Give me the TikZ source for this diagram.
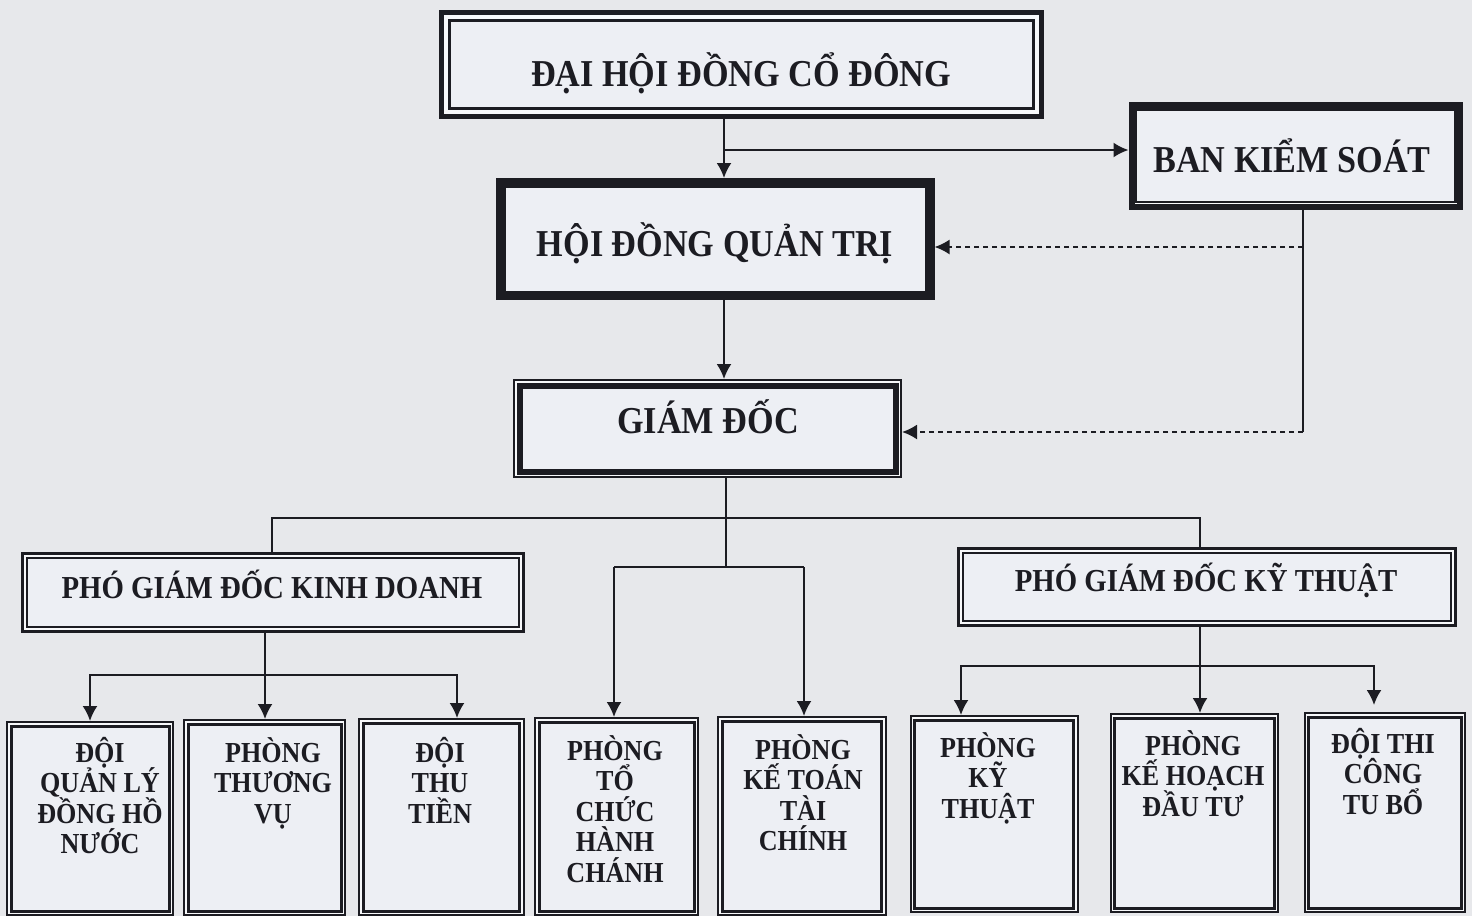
\documentclass[tikz,border=0pt]{standalone}
\usepackage{fontspec}
\setmainfont{Liberation Serif}[FakeStretch=0.9]
\usetikzlibrary{arrows.meta,fit}
\definecolor{bgc}{RGB}{231,232,235}
\definecolor{boxc}{RGB}{237,239,244}
\definecolor{gapc}{RGB}{247,248,250}
\definecolor{ink}{RGB}{28,28,34}
\newcommand\mysmallfont{\fontsize{14.5}{15.2}\selectfont\bfseries\lineskiplimit=-30pt\relax\lineskip=0pt\relax}
\newcommand\mystrut{\rule{0pt}{16pt}}
\begin{document}
\begin{tikzpicture}[x=0.5pt,y=-0.5pt,
  obox/.style={fit={#1}, inner sep=0pt, fill=gapc, draw=ink},
  ibox/.style={draw=ink, fill=boxc},
  big/.style={font=\fontsize{19}{22}\selectfont\bfseries, text=ink, inner sep=0pt, anchor=base},
  mid/.style={font=\fontsize{16}{19}\selectfont\bfseries, text=ink, inner sep=0pt, anchor=base},
  small/.style={font=\mysmallfont, text=ink, inner sep=0pt, anchor=north, align=center},
  conn/.style={draw=ink, line width=1pt},
  arr/.style={conn, -{Latex[length=7.5pt,width=7.5pt]}},
  dsh/.style={dash pattern=on 2.5pt off 2pt}
]
\useasboundingbox[fill=bgc] (0,0) rectangle (1472,916);

% ---------- boxes ----------
\node[obox={(441,12.5) (1041,116.5)}, line width=2.5pt] (dhd) {};
\draw[ibox, line width=1.5pt] ([shift={(10.5,10.5)}]dhd.north west) rectangle ([shift={(-10.5,-10.5)}]dhd.south east);

\node[obox={(499.5,181.5) (931,296.5)}, line width=3.5pt] (hdqt) {};
\draw[ibox, line width=1.5pt] ([shift={(8,8)}]hdqt.north west) rectangle ([shift={(-8,-8)}]hdqt.south east);

\node[obox={(1131.5,105) (1460,206.5)}, line width=3pt] (bks) {};
\draw[ibox, line width=1.25pt] ([shift={(7.5,7.5)}]bks.north west) rectangle ([shift={(-7.5,-7.5)}]bks.south east);

\node[obox={(514,380) (901,477)}, line width=1pt] (gd) {};
\draw[ibox, line width=3pt] ([shift={(6.5,6.5)}]gd.north west) rectangle ([shift={(-6.5,-6.5)}]gd.south east);

\node[obox={(22.5,553.5) (523,631)}, line width=1.5pt] (pkd) {};
\draw[ibox, line width=1pt] ([shift={(6,6)}]pkd.north west) rectangle ([shift={(-6,-6)}]pkd.south east);

\node[obox={(958.5,548.5) (1455.5,625)}, line width=1.5pt] (pkt) {};
\draw[ibox, line width=1pt] ([shift={(6,6)}]pkt.north west) rectangle ([shift={(-6,-6)}]pkt.south east);

\node[obox={(7,722) (173,915)}, line width=1pt] (b1) {};
\node[obox={(184,720) (345,915)}, line width=1pt] (b2) {};
\node[obox={(359,719) (523.5,915)}, line width=1pt] (b3) {};
\node[obox={(535,718) (698,915)}, line width=1pt] (b4) {};
\node[obox={(718,717) (885.5,915)}, line width=1pt] (b5) {};
\node[obox={(910.5,716) (1077.5,912)}, line width=1pt] (b6) {};
\node[obox={(1110.5,714) (1278,912)}, line width=1pt] (b7) {};
\node[obox={(1304.5,713) (1465,912)}, line width=1pt] (b8) {};
\foreach \b in {b1,b2,b3,b4,b5,b6,b7,b8}
  \draw[ibox, line width=1.5pt] ([shift={(5,5)}]\b.north west) rectangle ([shift={(-5,-4.5)}]\b.south east);

% ---------- texts ----------
\node[big] (t-dhd) at (741,86) {ĐẠI HỘI ĐỒNG CỔ ĐÔNG};
\node[big] (t-hdqt) at (715,256) {HỘI ĐỒNG QUẢN TRỊ};
\node[big] (t-bks) at (1292,172) {BAN KIỂM SOÁT};
\node[big] (t-gd) at (708,433) {GIÁM ĐỐC};
\node[mid] (t-pkd) at (272,598) {PHÓ GIÁM ĐỐC KINH DOANH};
\node[mid] (t-pkt) at (1206,591) {PHÓ GIÁM ĐỐC KỸ THUẬT};

\node[small] (t-b1) at (100,730) {\mystrut ĐỘI\\QUẢN LÝ\\ĐỒNG HỒ\\NƯỚC};
\node[small] (t-b2) at (273,730) {\mystrut PHÒNG\\THƯƠNG\\VỤ};
\node[small] (t-b3) at (440,730) {\mystrut ĐỘI\\THU\\TIỀN};
\node[small] (t-b4) at (615,728) {\mystrut PHÒNG\\TỔ\\CHỨC\\HÀNH\\CHÁNH};
\node[small] (t-b5) at (803,727) {\mystrut PHÒNG\\KẾ TOÁN\\TÀI\\CHÍNH};
\node[small] (t-b6) at (988,725) {\mystrut PHÒNG\\KỸ\\THUẬT};
\node[small] (t-b7) at (1193,723) {\mystrut PHÒNG\\KẾ HOẠCH\\ĐẦU TƯ};
\node[small] (t-b8) at (1383,721) {\mystrut ĐỘI THI\\CÔNG\\TU BỔ};

% ---------- connectors ----------
\coordinate (c1) at (724,150);
\draw[arr] (dhd.south -| c1) -- (hdqt.north -| c1);
\draw[arr] (c1) -- (c1 -| bks.west);

\coordinate (k1) at (1303,247);
\coordinate (k2) at (1303,432);
\draw[conn] (bks.south -| k1) -- (k2);
\draw[arr,dsh] (k1) -- (k1 -| hdqt.east);
\draw[arr,dsh] (k2) -- (k2 -| gd.east);

\draw[arr] (hdqt.south -| c1) -- (gd.north -| c1);

\coordinate (g1) at (726,518);
\coordinate (g2) at (726,567);
\coordinate (h1) at (272,518);
\coordinate (h2) at (1200,518);
\draw[conn] (gd.south -| g1) -- (g2);
\draw[conn] (h1 |- pkd.north) -- (h1) -- (h2) -- (h2 |- pkt.north);

\coordinate (j1) at (614,567);
\coordinate (j2) at (804,567);
\draw[conn] (j1) -- (j2);
\draw[arr] (j1) -- (j1 |- b4.north);
\draw[arr] (j2) -- (j2 |- b5.north);

\coordinate (m0) at (90,675);
\coordinate (m1) at (265,675);
\coordinate (m2) at (457,675);
\draw[arr] (pkd.south -| m1) -- (m1 |- b2.north);
\draw[arr] (m1) -- (m0) -- (m0 |- b1.north);
\draw[arr] (m1) -- (m2) -- (m2 |- b3.north);

\coordinate (n0) at (961,666);
\coordinate (n1) at (1200,666);
\coordinate (n2) at (1374,666);
\draw[arr] (pkt.south -| n1) -- (n1 |- b7.north);
\draw[arr] (n1) -- (n0) -- (n0 |- b6.north);
\draw[arr, shorten >=3.5pt] (n1) -- (n2) -- (n2 |- b8.north);
\end{tikzpicture}
\end{document}
